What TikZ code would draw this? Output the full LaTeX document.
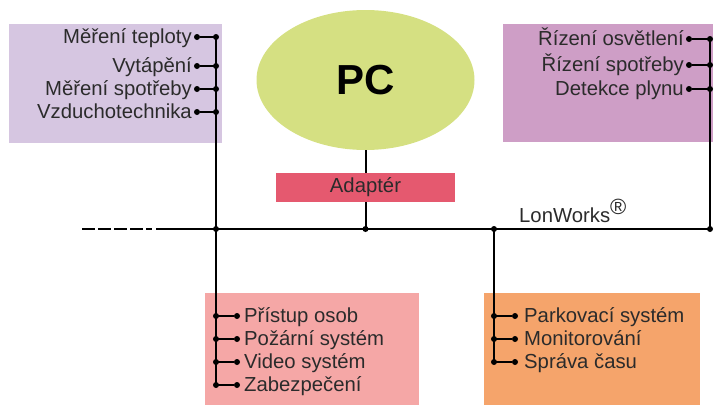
\documentclass[tikz,border=0pt]{standalone}
\usepackage{fontspec}
\setmainfont{Liberation Sans}
\usetikzlibrary{shapes.geometric}
\definecolor{boxA}{HTML}{D6C6E1}
\definecolor{boxB}{HTML}{CE9EC6}
\definecolor{boxC}{HTML}{F5A7A6}
\definecolor{boxD}{HTML}{F5A46B}
\definecolor{adapt}{HTML}{E5596F}
\definecolor{pcfill}{HTML}{D5E082}
\definecolor{txt}{HTML}{2B2B2B}
\tikzset{
  lbl/.style={inner sep=0pt, text=txt, font=\fontsize{20.3}{23}\selectfont},
  dotn/.style={circle, fill=black, inner sep=0pt, minimum size=6pt},
  wire/.style={line width=2pt, black},
}
\begin{document}
\begin{tikzpicture}[x=1pt,y=-1pt]
\useasboundingbox (0,0) rectangle (715,407);
% boxes
\fill[boxA] (9,24) rectangle (222,143);
\fill[boxB] (503,24) rectangle (713,142);
\fill[boxC] (205,293) rectangle (419,405);
\fill[boxD] (484,293) rectangle (700,405);
% PC and adapter
\node[ellipse, fill=pcfill, minimum width=218pt, minimum height=140pt, inner sep=0pt,
      font=\fontsize{42}{44}\selectfont\bfseries, text=black] (pc) at (365.5,80) {PC};
\node[fill=adapt, minimum width=179pt, minimum height=29pt, inner sep=0pt,
      lbl] (adp) at (365.5,187.5) {Adaptér};
% bus
\coordinate (busL) at (82,229);
\coordinate (busD) at (152,229);
\coordinate (busS) at (156,229);
\node[dotn] (j1) at (216,229) {};
\node[dotn] (j2) at (365.5,229) {};
\node[dotn] (j3) at (494,229) {};
\node[dotn] (j4) at (710,229) {};
\draw[wire, dash pattern=on 12.5pt off 3.5pt] (busL) -- (busD);
\draw[wire] (busS) -- (j4.center);
\node[lbl, anchor=base west] (lw) at (519,222) {LonWorks\textsuperscript{\fontsize{22}{22}\selectfont ®}};
% PC link
\draw[wire] (pc.south) -- (adp.north);
\draw[wire] (adp.south) -- (j2.center);
% top-left group
\foreach \i/\t/\y in {1/Měření teploty/37, 2/Vytápění/66, 3/Měření spotřeby/89, 4/Vzduchotechnika/112}{
  \node[lbl, anchor=base east] (tl\i) at (192,\y+6) {\t};
  \node[dotn] (tlb\i) at (197,\y) {};
  \node[dotn] (tlj\i) at (216,\y) {};
  \draw[wire] (tlb\i) -- (tlj\i.center);
}
% bottom-left group
\foreach \i/\t/\y in {1/Přístup osob/316, 2/Požární systém/339, 3/Video systém/362, 4/Zabezpečení/385}{
  \node[lbl, anchor=base west] (bl\i) at (244,\y+6) {\t};
  \node[dotn] (blb\i) at (237,\y) {};
  \node[dotn] (blj\i) at (216,\y) {};
  \draw[wire] (blj\i.center) -- (blb\i);
}
\draw[wire] (tlj1.center) -- (blj4.center);
% top-right group
\foreach \i/\t/\y in {1/Řízení osvětlení/39, 2/Řízení spotřeby/65, 3/Detekce plynu/89}{
  \node[lbl, anchor=base east] (tr\i) at (684,\y+6) {\t};
  \node[dotn] (trb\i) at (689,\y) {};
  \node[dotn] (trj\i) at (710,\y) {};
  \draw[wire] (trb\i) -- (trj\i.center);
}
\draw[wire] (trj1.center) -- (j4.center);
% bottom-right group
\foreach \i/\t/\y in {1/Parkovací systém/316, 2/Monitorování/339, 3/Správa času/362}{
  \node[lbl, anchor=base west] (br\i) at (524,\y+6) {\t};
  \node[dotn] (brb\i) at (515,\y) {};
  \node[dotn] (brj\i) at (494,\y) {};
  \draw[wire] (brj\i.center) -- (brb\i);
}
\draw[wire] (j3.center) -- (brj3.center);
\end{tikzpicture}
\end{document}
